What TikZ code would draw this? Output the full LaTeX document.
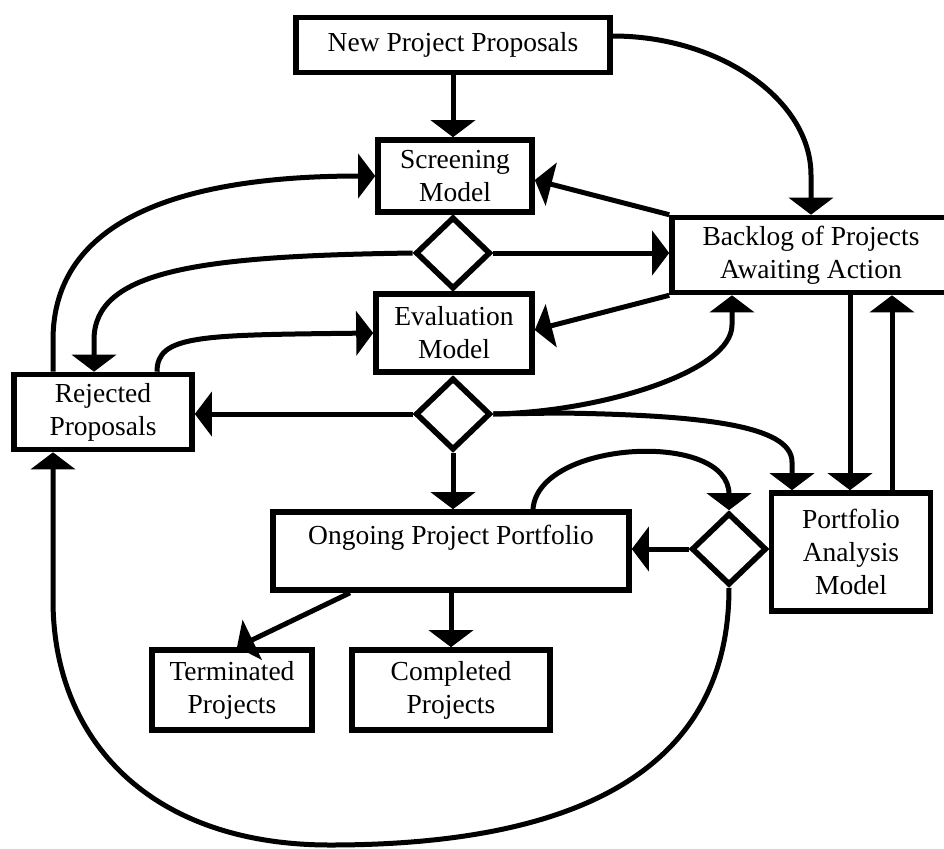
\documentclass[tikz,border=0pt]{standalone}
\usepackage{fontspec}
\setmainfont{Liberation Serif}
\usetikzlibrary{arrows.meta,shapes.geometric}

\begin{document}
\begin{tikzpicture}[x=0.5pt,y=-0.5pt,
  box/.style={draw, line width=2.8pt, align=center, inner sep=0pt,
    font=\fontsize{13.75}{16.5}\selectfont},
  gate/.style={draw, diamond, line width=2.8pt, inner sep=0pt,
    minimum width=37.5pt, minimum height=36pt},
  flow/.style={line width=2.5pt, -{Triangle[length=8.5pt,width=22pt]}}]
\clip (0,0) rectangle (944,848);

% boxes and decision points
\node[box, minimum width=157pt, minimum height=27.5pt] (npp) at (453,45) {New Project Proposals};
\node[box, minimum width=77pt, minimum height=36pt] (scr) at (455,176) {Screening\\Model};
\node[gate] (d1) at (453,253) {};
\node[box, minimum width=78pt, minimum height=39pt] (eva) at (454,333) {Evaluation\\Model};
\node[gate] (d2) at (453,414) {};
\node[box, minimum width=89pt, minimum height=37.5pt] (rej) at (103,412) {Rejected\\Proposals};
\node[box, minimum width=139pt, minimum height=37.5pt] (bkl) at (811,255) {Backlog of Projects\\Awaiting Action};
\node[box, minimum width=178pt, minimum height=39pt] (ong) at (451,551) {Ongoing Project Portfolio\\\mbox{}};
\node[box, minimum width=80pt, minimum height=40pt] (ter) at (232,690) {Terminated\\Projects};
\node[box, minimum width=99pt, minimum height=40pt] (cmp) at (451,690) {Completed\\Projects};
\node[gate] (d3) at (729,549) {};
\node[box, minimum width=79.5pt, minimum height=59pt] (pam) at (851,552) {Portfolio\\Analysis\\Model};

% flows into screening and the backlog
\draw[flow] (npp.south) -- (npp.south |- scr.north);
\draw[flow] ([yshift=4.5pt]npp.east) .. controls (720,36) and (811,100) .. (811,175) -- (bkl.north);
\draw[flow] (bkl.north west) -- ([yshift=-2pt]scr.east);
\draw[flow] (d1.east) -- (d1.east -| bkl.west);
\draw[flow] (bkl.south west) -- ([yshift=1.5pt]eva.east);

% evaluation outcomes
\draw[flow] (d2.east) .. controls (600,412) and (732,372) .. (732,325) -- (bkl.south -| 732,0);
\draw[flow] (d2.east) -- (560,413) .. controls (700,415) and (792,425) .. (792,462) -- (pam.north -| 792,0);
\draw[flow] (bkl.south -| 850,0) -- (pam.north -| 850,0);
\draw[flow] (pam.north -| 892,0) -- (bkl.south -| 892,0);

% rejected proposals loops
\draw[flow] (d1.west) .. controls (200,256) and (94,270) .. (94,340) -- (rej.north -| 94,0);
\draw[flow] (rej.north -| 53,0) -- (53,340) .. controls (53,220) and (180,176) .. (scr.west);
\draw[flow] (rej.north -| 157,0) .. controls (157,335) and (200,335) .. (eva.west);
\draw[flow] (d2.west) -- (rej.east |- d2.west);

% portfolio
\draw[flow] (d2.south) -- (ong.north -| d2.south);
\draw[flow] (ong.north -| 533,0) .. controls (538,440) and (729,430) .. (d3.north);
\draw[flow] (d3.west) -- (ong.east |- d3.west);
\draw[flow] (ong.south -| 350,0) -- (ter.north -| 237,0);
\draw[flow] (ong.south -| cmp.north) -- (cmp.north);
\draw[flow] (d3.south) .. controls (729,780) and (560,845) .. (330,845)
  .. controls (150,845) and (53,740) .. (53,600) -- (rej.south -| 53,0);
\end{tikzpicture}
\end{document}
